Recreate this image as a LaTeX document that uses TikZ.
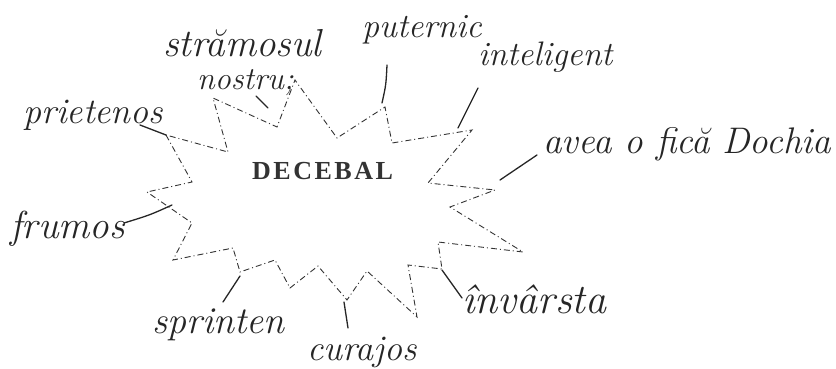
\documentclass[tikz,border=0pt]{standalone}
\usepackage{fontspec}
\newfontfamily\titlefont{Liberation Serif}
\begin{document}
\begin{tikzpicture}[x=1pt, y=-1pt,
    hand/.style={font=\fontsize{#1}{#1}\selectfont\itshape, text=black!85, inner sep=0pt, anchor=base west},
    ink/.style={line width=1.3pt, draw=black!85, line cap=round},
    starline/.style={line width=0.9pt, draw=black!80, dash pattern=on 6pt off 3pt on 1pt off 3pt}]
    \useasboundingbox (0,0) rectangle (836,369);

    % steaua
    \draw[starline] (166,135) -- (192,182) -- (147,192) -- (192,223) -- (173,260) -- (233,248)
        -- (240,272) -- (275,260) -- (290,288) -- (318,266) -- (347,300) -- (367,271)
        -- (417,317) -- (408,265) -- (442,269) -- (438,242) -- (523,252) -- (450,207)
        -- (495,190) -- (428,183) -- (472,130) -- (392,143) -- (385,107) -- (337,138)
        -- (295,80) -- (277,127) -- (213,98) -- (228,152) -- cycle;

    % centru
    \node[font=\fontsize{26}{26}\selectfont\titlefont\bfseries, text=black!80, inner sep=0pt, anchor=base west] (decebal) at (252,179) {D\kern2.5ptE\kern2.5ptC\kern2.5ptE\kern2.5ptB\kern2.5ptA\kern2.5ptL};

    % varfuri
    \coordinate (vPri) at (166,135);
    \coordinate (vStr) at (268,108);
    \coordinate (vPut) at (382,103);
    \coordinate (vInt) at (458,128);
    \coordinate (vAve) at (500,180);
    \coordinate (vFru) at (172,205);
    \coordinate (vSpr) at (240,276);
    \coordinate (vCur) at (344,302);
    \coordinate (vInv) at (442,270);

    % capete
    \coordinate (cPri) at (140,125);
    \coordinate (cStr) at (256,96);
    \coordinate (cPut) at (387,65);
    \coordinate (cInt) at (478,88);
    \coordinate (cAve) at (537,155);
    \coordinate (cFru) at (124,223);
    \coordinate (cSpr) at (223,302);
    \coordinate (cCur) at (348,328);
    \coordinate (cInv) at (462,298);

    % etichete
    \node[hand=36] (prietenos) at (23,123) {prietenos};
    \node[hand=39] (stramosul) at (163,57) {strămosul};
    \node[hand=32] (nostru) at (197,90) {nostru;};
    \node[hand=34] (puternic) at (362,38) {puternic};
    \node[hand=34] (inteligent) at (478,66) {inteligent};
    \node[hand=37] (avea) at (543,153) {avea o fică Dochia};
    \node[hand=39] (frumos) at (10,238) {frumos};
    \node[hand=38] (sprinten) at (152,333) {sprinten};
    \node[hand=36] (curajos) at (307,360) {curajos};
    \node[hand=42] (invarsta) at (462,313) {învârsta};

    % legaturi
    \draw[ink] (cPri) -- (vPri);
    \draw[ink] (cStr) -- (vStr);
    \draw[ink] (cPut) .. controls (386,85) .. (vPut);
    \draw[ink] (cInt) -- (vInt);
    \draw[ink] (cAve) -- (vAve);
    \draw[ink] (cFru) .. controls (150,215) .. (vFru);
    \draw[ink] (cSpr) -- (vSpr);
    \draw[ink] (cCur) -- (vCur);
    \draw[ink] (cInv) -- (vInv);
\end{tikzpicture}
\end{document}
